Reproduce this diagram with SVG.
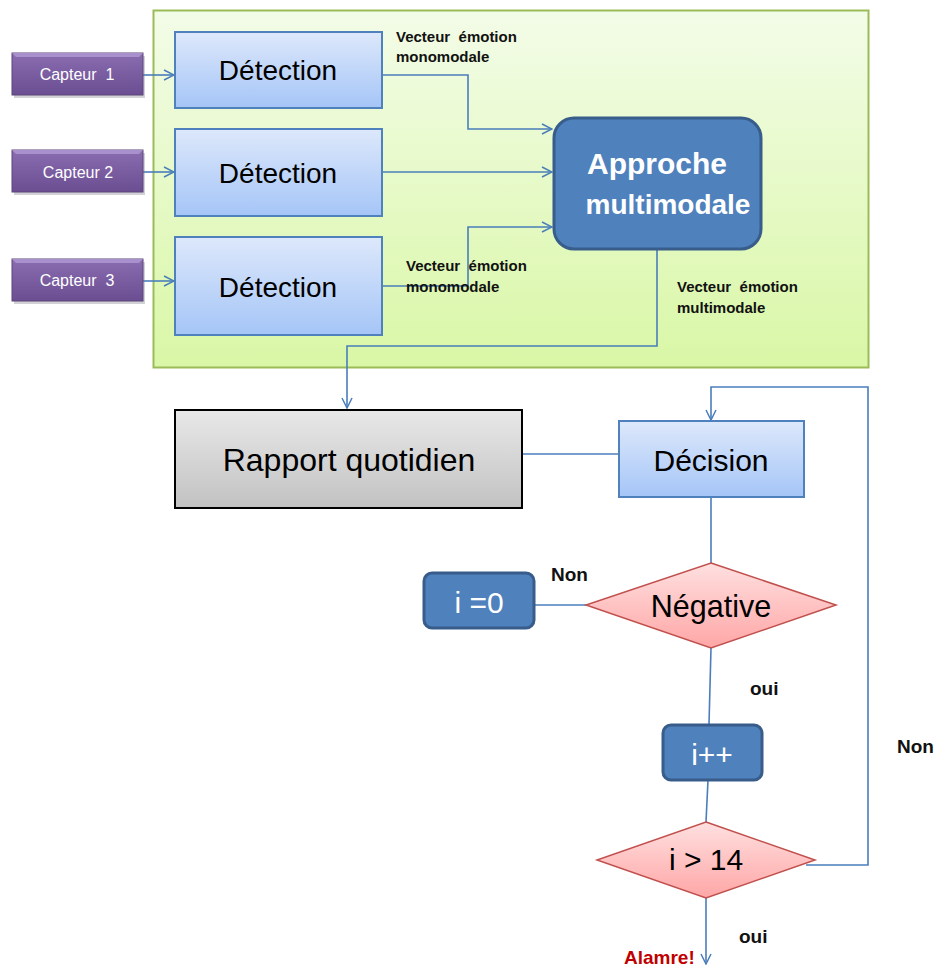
<svg xmlns="http://www.w3.org/2000/svg" width="937" height="967" viewBox="0 0 937 967">
<defs>
<linearGradient id="gGreen" x1="0" y1="0" x2="0" y2="1"><stop offset="0" stop-color="#F3FCE8"/><stop offset="1" stop-color="#D9F7A6"/></linearGradient>
<linearGradient id="gBlue" x1="0" y1="0" x2="0" y2="1"><stop offset="0" stop-color="#DDE8FB"/><stop offset="1" stop-color="#A5C5F7"/></linearGradient>
<linearGradient id="gGray" x1="0" y1="0" x2="0" y2="1"><stop offset="0" stop-color="#E8E8E8"/><stop offset="1" stop-color="#C2C2C2"/></linearGradient>
<linearGradient id="gRed" x1="0" y1="0" x2="0" y2="1"><stop offset="0" stop-color="#FFE0E0"/><stop offset="1" stop-color="#FFA6A6"/></linearGradient>
<linearGradient id="gPurple" x1="0" y1="0" x2="0" y2="1"><stop offset="0" stop-color="#8A6DB0"/><stop offset="1" stop-color="#6B4E92"/></linearGradient>
<marker id="arr" viewBox="0 0 12 12" refX="11" refY="6" markerWidth="12" markerHeight="12" markerUnits="userSpaceOnUse" orient="auto">
<path d="M1,1 L11,6 L1,11" fill="none" stroke="#4A7EBB" stroke-width="1.5"/>
</marker>
</defs>
<style>
.cn{fill:none;stroke:#4A7EBB;stroke-width:1.6}
.det{fill:url(#gBlue);stroke:#4F81BD;stroke-width:2}
.cap{fill:url(#gPurple);stroke:#5C4776;stroke-width:1}
.dark{fill:#4F81BD;stroke:#385D8A;stroke-width:3}
.dia{fill:url(#gRed);stroke:#C0504D;stroke-width:1.5}
.t{font-family:"Liberation Sans",Arial,sans-serif;text-anchor:middle}
.lbl{font-family:"Liberation Sans",Arial,sans-serif;font-weight:bold;font-size:15px;fill:#111;white-space:pre}
.yn{font-family:"Liberation Sans",Arial,sans-serif;font-weight:bold;font-size:19px;fill:#111}
</style>
<rect width="937" height="967" fill="#FFFFFF"/>
<g id="container"><rect x="153.5" y="10.5" width="715" height="357" fill="url(#gGreen)" stroke="#9BBB59" stroke-width="2"/></g>

<g id="connectors">
<path class="cn" d="M143,75 H174" marker-end="url(#arr)"/>
<path class="cn" d="M143,172 H174" marker-end="url(#arr)"/>
<path class="cn" d="M143,281 H174" marker-end="url(#arr)"/>
<path class="cn" d="M382,75 H468 V129 H552" marker-end="url(#arr)"/>
<path class="cn" d="M382,172 H552" marker-end="url(#arr)"/>
<path class="cn" d="M382,286 H468 V227 H552" marker-end="url(#arr)"/>
<path class="cn" d="M657,250 V346 H347 V408" marker-end="url(#arr)"/>
<path class="cn" d="M522,454 H619"/>
<path class="cn" d="M711,497 V563"/>
<path class="cn" d="M534,605 H586"/>
<path class="cn" d="M711,648 L709,724"/>
<path class="cn" d="M708,780 L706,822"/>
<path class="cn" d="M806,865 H868 V387 H711 V420" marker-end="url(#arr)"/>
<path class="cn" d="M706,898 V964" marker-end="url(#arr)"/>
</g>

<g id="capteur1"><rect x="14" y="56" width="131" height="42" fill="#7A7A8A" opacity="0.35"/><rect class="cap" x="12" y="53" width="131" height="42"/><path d="M12,53 H143 L139,57 H16 Z" fill="#A890CC"/><text class="t" x="77" y="80" font-size="16" fill="#FFFFFF" style="white-space:pre">Capteur  1</text></g>
<g id="capteur2"><rect x="14" y="153" width="131" height="42" fill="#7A7A8A" opacity="0.35"/><rect class="cap" x="12" y="150" width="131" height="42"/><path d="M12,150 H143 L139,154 H16 Z" fill="#A890CC"/><text class="t" x="78" y="178" font-size="16" fill="#FFFFFF">Capteur 2</text></g>
<g id="capteur3"><rect x="14" y="262" width="131" height="42" fill="#7A7A8A" opacity="0.35"/><rect class="cap" x="12" y="259" width="131" height="42"/><path d="M12,259 H143 L139,263 H16 Z" fill="#A890CC"/><text class="t" x="77" y="286" font-size="16" fill="#FFFFFF" style="white-space:pre">Capteur  3</text></g>

<g id="detection1"><rect class="det" x="175" y="32" width="207" height="76"/><text class="t" x="278" y="80" font-size="28" fill="#000">Détection</text></g>
<g id="detection2"><rect class="det" x="175" y="129" width="207" height="87"/><text class="t" x="278" y="183" font-size="28" fill="#000">Détection</text></g>
<g id="detection3"><rect class="det" x="175" y="237" width="207" height="98"/><text class="t" x="278" y="297" font-size="28" fill="#000">Détection</text></g>

<g id="approche"><rect class="dark" x="554" y="118" width="207" height="131" rx="20"/><text class="t" x="657" y="174" font-size="30" font-weight="bold" fill="#FFFFFF">Approche</text><text class="t" x="668" y="214" font-size="28" font-weight="bold" fill="#FFFFFF">multimodale</text></g>

<g id="labels">
<text class="lbl" x="396" y="42">Vecteur  émotion</text>
<text class="lbl" x="396" y="62">monomodale</text>
<text class="lbl" x="406" y="271">Vecteur  émotion</text>
<text class="lbl" x="406" y="292">monomodale</text>
<text class="lbl" x="677" y="292">Vecteur  émotion</text>
<text class="lbl" x="677" y="313">multimodale</text>
</g>

<g id="rapport"><rect x="175" y="410" width="347" height="98" fill="url(#gGray)" stroke="#000" stroke-width="2"/><text class="t" x="349" y="471" font-size="32" fill="#000">Rapport quotidien</text></g>
<g id="decision"><rect class="det" x="619" y="421" width="185" height="76"/><text class="t" x="711" y="471" font-size="30" fill="#000">Décision</text></g>
<g id="negative"><polygon class="dia" points="711,563 836,605 711,648 586,605"/><text class="t" x="711" y="617" font-size="30.5" fill="#000">Négative</text></g>
<g id="i0"><rect class="dark" x="424" y="573" width="110" height="55" rx="8"/><text class="t" x="479" y="613" font-size="30" fill="#FFFFFF">i =0</text></g>
<g id="iplus"><rect class="dark" x="663" y="725" width="99" height="55" rx="8"/><text class="t" x="712" y="765" font-size="30" fill="#FFFFFF">i++</text></g>
<g id="i14"><polygon class="dia" points="706,822 815,860 706,898 597,860"/><text class="t" x="706" y="870" font-size="30" fill="#000">i &gt; 14</text></g>

<g id="yesno">
<text class="yn" x="551" y="581">Non</text>
<text class="yn" x="750" y="695">oui</text>
<text class="yn" x="897" y="753">Non</text>
<text class="yn" x="739" y="943">oui</text>
<text class="yn" x="624" y="964" style="fill:#C00000">Alamre!</text>
</g>
</svg>
